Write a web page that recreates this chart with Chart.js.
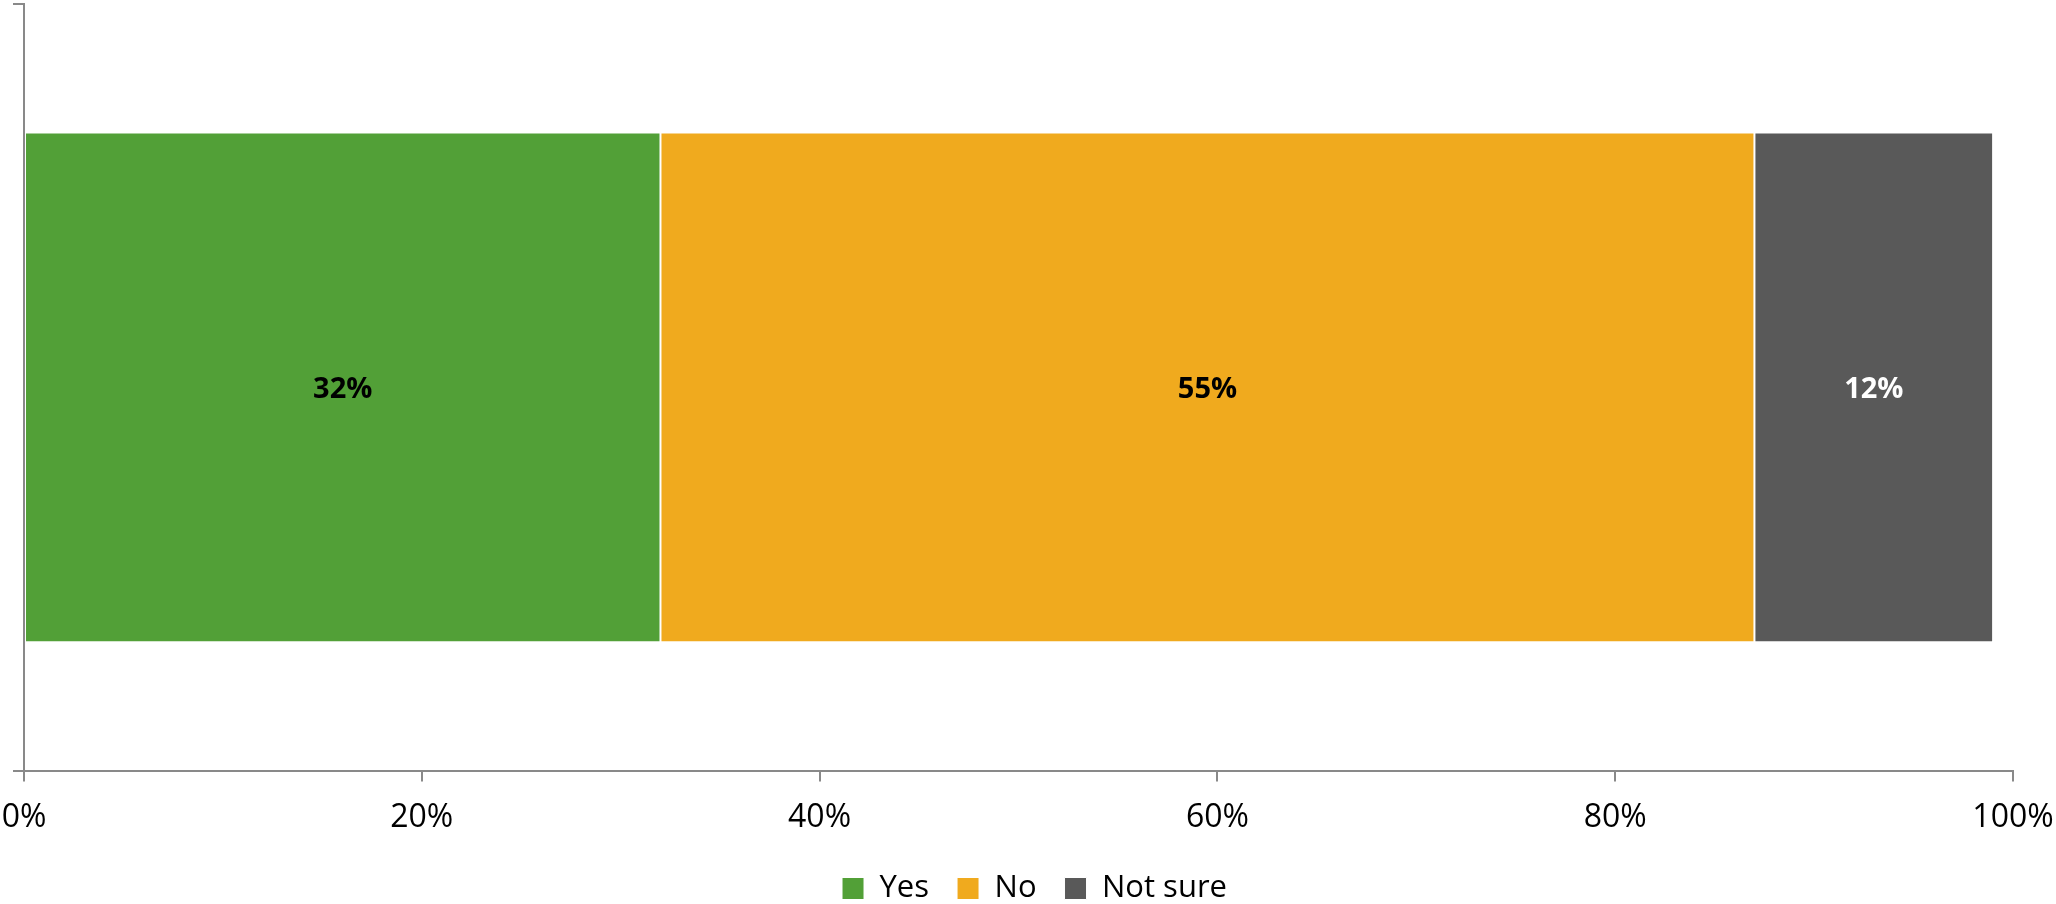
<!DOCTYPE html>
<html>
<head>
<meta charset="utf-8">
<script src="https://cdn.jsdelivr.net/npm/chart.js@4/dist/chart.umd.min.js"></script>
<style>
  html, body { margin: 0; padding: 0; background: #fff; }
  #wrap { width: 2056px; height: 904px; }
</style>
</head>
<body>
<div id="wrap"><canvas id="myChart" width="2056" height="904"></canvas></div>
<script>
// chart data
let categories = [""];
let seriesNames = ["Yes", "No", "Not sure"];
let yesValues = [32];
let noValues = [55];
let notSureValues = [12];
let seriesColors = ["#52A037", "#F0AA1E", "#595959"];
let labelColors = ["#000000", "#000000", "#ffffff"];
let xTicks = [0, 20, 40, 60, 80, 100];

let fontFamily = "'Open Sans', 'Liberation Sans', sans-serif";

// draws the value in the middle of each bar segment
const barLabels = {
  id: "barLabels",
  afterDatasetsDraw(chart) {
    let ctx = chart.ctx;
    ctx.save();
    ctx.font = "bold 29px " + fontFamily;
    ctx.textAlign = "center";
    ctx.textBaseline = "middle";
    chart.data.datasets.forEach((ds, i) => {
      let meta = chart.getDatasetMeta(i);
      meta.data.forEach((bar, j) => {
        let c = bar.getCenterPoint();
        ctx.fillStyle = labelColors[i];
        ctx.fillText(ds.data[j] + "%", c.x, c.y + 2);
      });
    });
    ctx.restore();
  }
};

let allValues = [yesValues, noValues, notSureValues];
let datasets = seriesNames.map((name, i) => {
  return {
    label: name,
    data: allValues[i],
    backgroundColor: seriesColors[i],
    borderColor: "#ffffff",
    borderWidth: 1,
    borderSkipped: false,
    categoryPercentage: 1,
    barPercentage: 0.665
  };
});

let ctx = document.getElementById("myChart").getContext("2d");

let myChart = new Chart(ctx, {
  type: "bar",
  data: {
    labels: categories,
    datasets
  },
  plugins: [barLabels],
  options: {
    indexAxis: "y",
    responsive: false,
    animation: false,
    layout: {
      padding: { left: 13, right: 0, top: 4, bottom: -10 }
    },
    plugins: {
      tooltip: { enabled: false },
      legend: {
        position: "bottom",
        labels: {
          boxWidth: 22,
          boxHeight: 22,
          padding: 28,
          color: "#000",
          font: { family: fontFamily, size: 31 }
        }
      }
    },
    scales: {
      x: {
        stacked: true,
        min: 0,
        max: 100,
        afterBuildTicks(axis) {
          axis.ticks = xTicks.map(v => ({ value: v }));
        },
        afterFit(axis) {
          axis.height -= 9;
          axis.paddingLeft = 0;
          axis.paddingRight = 43;
        },
        ticks: {
          color: "#000",
          padding: 17,
          maxRotation: 0,
          font: { family: fontFamily, size: 32 },
          callback: v => v + "%"
        },
        grid: {
          drawOnChartArea: false,
          drawTicks: true,
          tickLength: 11,
          color: "#898989",
          lineWidth: 2
        },
        border: { color: "#898989", width: 2 }
      },
      y: {
        stacked: true,
        offset: true,
        afterFit(axis) {
          axis.width = 11;
        },
        ticks: { display: false },
        grid: {
          offset: true,
          drawOnChartArea: false,
          drawTicks: true,
          tickLength: 11,
          color: "#898989",
          lineWidth: 2
        },
        border: { color: "#898989", width: 2 }
      }
    }
  }
});
</script>
</body>
</html>
